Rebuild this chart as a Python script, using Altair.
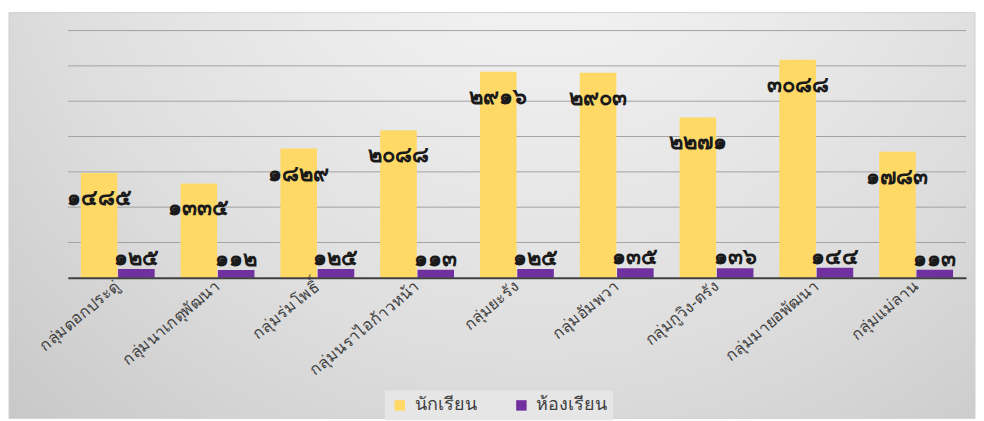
import altair as alt
import pandas as pd

groups = ["กลุ่มดอกประดู่", "กลุ่มนาเกตุพัฒนา", "กลุ่มร่มโพธิ์", "กลุ่มนราไอก้าวหน้า",
          "กลุ่มยะรัง", "กลุ่มอัมพวา", "กลุ่มกูวิง-ตรัง", "กลุ่มมายอพัฒนา", "กลุ่มแม่ลาน"]
students = [1485, 1335, 1829, 2088, 2916, 2903, 2271, 3088, 1783]
rooms = [125, 112, 125, 113, 125, 135, 136, 144, 113]
series = ["นักเรียน", "ห้องเรียน"]
colors = ["#FFD966", "#7030A0"]
grid_values = [500, 1000, 1500, 2000, 2500, 3000, 3500]

thai = str.maketrans("0123456789", "๐๑๒๓๔๕๖๗๘๙")

rows = []
for g, s, r in zip(groups, students, rooms):
    rows.append({"group": g, "series": series[0], "value": s, "label": str(s).translate(thai)})
    rows.append({"group": g, "series": series[1], "value": r, "label": str(r).translate(thai)})
df = pd.DataFrame(rows)
grid_df = pd.DataFrame({"v": grid_values})
bg_df = pd.DataFrame({"k": [0]})

W, H = 901, 248
FONT = "Noto Sans"

yscale = alt.Scale(domain=[0, 3500], nice=False)
xenc = alt.X("group:N", sort=groups,
             scale=alt.Scale(paddingInner=0.26, paddingOuter=0.13),
             axis=alt.Axis(title=None, labelAngle=-40, labelAlign="right", labelBaseline="middle",
                           ticks=False, domain=True, domainColor="#404040", domainWidth=2,
                           labelColor="#404040", labelFontSize=16, labelFont=FONT, labelPadding=6,
                           grid=False, zindex=1))
xoff = alt.XOffset("series:N", sort=series, scale=alt.Scale(paddingInner=0.02))

bg = alt.Chart(bg_df).mark_rect(
    fill={"gradient": "radial", "x1": 0.55, "y1": 0.12, "r1": 0.0,
          "x2": 0.55, "y2": 0.12, "r2": 0.95,
          "stops": [{"offset": 0, "color": "#fafafa"},
                    {"offset": 0.55, "color": "#dedede"},
                    {"offset": 1, "color": "#bdbdbd"}]},
    stroke="#d0d0d0", strokeWidth=1
).encode(x=alt.value(-59), x2=alt.value(910), y=alt.value(-18), y2=alt.value(389))

grid = alt.Chart(grid_df).mark_rule(color="#a3a3a3", strokeWidth=1).encode(
    y=alt.Y("v:Q", scale=yscale, axis=None),
    x=alt.value(0), x2=alt.value(W))

bars = alt.Chart(df).mark_bar().encode(
    x=xenc, xOffset=xoff,
    y=alt.Y("value:Q", scale=yscale, axis=None),
    color=alt.Color("series:N", sort=series,
                    scale=alt.Scale(domain=series, range=colors),
                    legend=alt.Legend(title=None, orient="none", legendX=318, legendY=361,
                                      direction="horizontal", symbolType="square", symbolSize=110,
                                      symbolStrokeWidth=0, labelFontSize=18, labelFont=FONT,
                                      labelColor="#404040", fillColor="#e6e6e6", padding=6,
                                      columnPadding=36, labelOffset=6))
)

txt_s = alt.Chart(df).transform_filter(alt.datum.series == series[0]).mark_text(
    dy=25, fontSize=22, fontWeight="bold", font=FONT, color="#1a1a1a", baseline="middle"
).encode(x=xenc, xOffset=xoff, y=alt.Y("value:Q", scale=yscale, axis=None), text="label:N")

txt_r = alt.Chart(df).transform_filter(alt.datum.series == series[1]).mark_text(
    dy=-11, fontSize=22, fontWeight="bold", font=FONT, color="#1a1a1a", baseline="middle"
).encode(x=xenc, xOffset=xoff, y=alt.Y("value:Q", scale=yscale, axis=None), text="label:N")

chart = alt.layer(bg, grid, bars, txt_s, txt_r).properties(
    width=W, height=H, padding={"left": 0, "top": 3, "right": 0, "bottom": 0}
).configure(background="white").configure_view(stroke=None)

chart.save("out.html", embed_options={"renderer": "svg", "actions": False})
